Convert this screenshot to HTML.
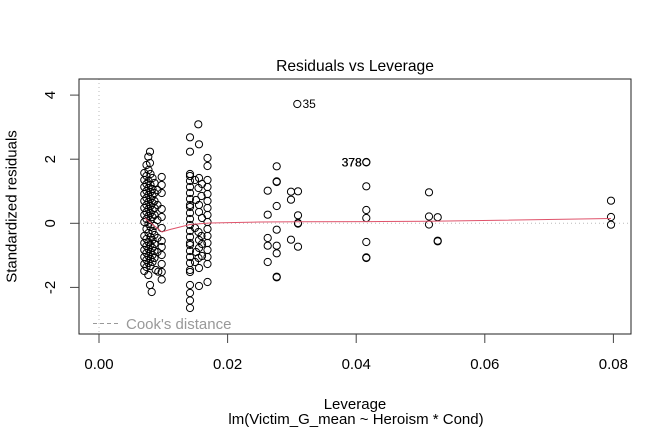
<!DOCTYPE html>
<html><head><meta charset="utf-8"><style>
html,body{margin:0;padding:0;background:#fff;}
svg{display:block;}
text{font-family:"Liberation Sans",Arial,sans-serif;}
</style></head><body>
<svg width="672" height="432" viewBox="0 0 672 432" xmlns="http://www.w3.org/2000/svg">
<rect width="672" height="432" fill="#fff"/>
<!-- reference lines -->
<line x1="79" y1="223.3" x2="631" y2="223.3" stroke="#bbb" stroke-width="1" stroke-dasharray="1,3"/>
<line x1="99" y1="79" x2="99" y2="334" stroke="#bbb" stroke-width="1" stroke-dasharray="1,3"/>
<!-- title -->
<text x="355" y="71" font-size="15.6" text-anchor="middle" fill="#000">Residuals vs Leverage</text>
<!-- frame -->
<rect x="79" y="79" width="552" height="255" fill="none" stroke="#222" stroke-width="1"/>
<!-- axes ticks -->
<g stroke="#444" stroke-width="1">
<line x1="70" y1="95.1" x2="79" y2="95.1"/>
<line x1="70" y1="159.2" x2="79" y2="159.2"/>
<line x1="70" y1="223.3" x2="79" y2="223.3"/>
<line x1="70" y1="287.4" x2="79" y2="287.4"/>
<line x1="99" y1="334" x2="99" y2="343"/>
<line x1="227.6" y1="334" x2="227.6" y2="343"/>
<line x1="356.2" y1="334" x2="356.2" y2="343"/>
<line x1="484.8" y1="334" x2="484.8" y2="343"/>
<line x1="613.4" y1="334" x2="613.4" y2="343"/>
</g>
<g font-size="15" fill="#000" text-anchor="middle">
<text transform="translate(55,95.1) rotate(-90)">4</text>
<text transform="translate(55,159.2) rotate(-90)">2</text>
<text transform="translate(55,223.3) rotate(-90)">0</text>
<text transform="translate(55,287.4) rotate(-90)">-2</text>
<text x="99" y="369">0.00</text>
<text x="227.6" y="369">0.02</text>
<text x="356.2" y="369">0.04</text>
<text x="484.8" y="369">0.06</text>
<text x="613.4" y="369">0.08</text>
<text transform="translate(16.5,206.5) rotate(-90)">Standardized residuals</text>
<text x="355" y="409">Leverage</text>
<text x="356" y="424">lm(Victim_G_mean ~ Heroism * Cond)</text>
</g>
<!-- legend -->
<line x1="93" y1="323.5" x2="121" y2="323.5" stroke="#999" stroke-width="1" stroke-dasharray="4,3"/>
<text x="126" y="329" font-size="15" fill="#999">Cook's distance</text>
<!-- points -->
<g fill="none" stroke="#000" stroke-width="1">
<!-- cluster 1 : dense band -->
<circle cx="144.3" cy="173" r="3.6"/><circle cx="144.3" cy="180" r="3.6"/><circle cx="144.3" cy="187" r="3.6"/><circle cx="144.3" cy="194" r="3.6"/><circle cx="144.3" cy="201" r="3.6"/><circle cx="144.3" cy="208" r="3.6"/><circle cx="144.3" cy="215" r="3.6"/><circle cx="144.3" cy="222" r="3.6"/><circle cx="144.3" cy="236" r="3.6"/><circle cx="144.3" cy="243" r="3.6"/><circle cx="144.3" cy="250" r="3.6"/><circle cx="144.3" cy="257" r="3.6"/><circle cx="144.3" cy="264" r="3.6"/><circle cx="144.3" cy="271" r="3.6"/>
<circle cx="146.5" cy="165" r="3.6"/><circle cx="146.5" cy="176" r="3.6"/><circle cx="146.5" cy="184" r="3.6"/><circle cx="146.5" cy="191" r="3.6"/><circle cx="146.5" cy="198" r="3.6"/><circle cx="146.5" cy="205" r="3.6"/><circle cx="146.5" cy="212" r="3.6"/><circle cx="146.5" cy="219" r="3.6"/><circle cx="146.5" cy="229" r="3.6"/><circle cx="146.5" cy="239" r="3.6"/><circle cx="146.5" cy="246" r="3.6"/><circle cx="146.5" cy="253" r="3.6"/><circle cx="146.5" cy="260" r="3.6"/><circle cx="146.5" cy="267" r="3.6"/>
<circle cx="148.3" cy="156.7" r="3.6"/><circle cx="148.5" cy="170" r="3.6"/><circle cx="148.5" cy="181" r="3.6"/><circle cx="148.5" cy="188" r="3.6"/><circle cx="148.5" cy="195" r="3.6"/><circle cx="148.5" cy="202" r="3.6"/><circle cx="148.5" cy="209" r="3.6"/><circle cx="148.5" cy="216" r="3.6"/><circle cx="148.5" cy="224" r="3.6"/><circle cx="148.5" cy="233" r="3.6"/><circle cx="148.5" cy="242" r="3.6"/><circle cx="148.5" cy="249" r="3.6"/><circle cx="148.5" cy="256" r="3.6"/><circle cx="148.5" cy="263" r="3.6"/><circle cx="148.3" cy="275" r="3.6"/>
<circle cx="150" cy="151.7" r="3.6"/><circle cx="150" cy="163" r="3.6"/><circle cx="150.5" cy="174" r="3.6"/><circle cx="150.5" cy="185" r="3.6"/><circle cx="150.5" cy="192" r="3.6"/><circle cx="150.5" cy="199" r="3.6"/><circle cx="150.5" cy="206" r="3.6"/><circle cx="150.5" cy="213" r="3.6"/><circle cx="150.5" cy="220" r="3.6"/><circle cx="150.5" cy="227" r="3.6"/><circle cx="150.5" cy="237" r="3.6"/><circle cx="150.5" cy="245" r="3.6"/><circle cx="150.5" cy="252" r="3.6"/><circle cx="150.5" cy="259" r="3.6"/><circle cx="150.5" cy="266" r="3.6"/><circle cx="150" cy="285" r="3.6"/><circle cx="151.7" cy="292" r="3.6"/>
<circle cx="152.5" cy="178" r="3.6"/><circle cx="152.5" cy="189" r="3.6"/><circle cx="152.5" cy="196" r="3.6"/><circle cx="152.5" cy="203" r="3.6"/><circle cx="152.5" cy="210" r="3.6"/><circle cx="152.5" cy="217" r="3.6"/><circle cx="152.5" cy="231" r="3.6"/><circle cx="152.5" cy="240" r="3.6"/><circle cx="152.5" cy="248" r="3.6"/><circle cx="152.5" cy="255" r="3.6"/><circle cx="152.5" cy="262" r="3.6"/>
<circle cx="154.5" cy="183" r="3.6"/><circle cx="154.5" cy="193" r="3.6"/><circle cx="154.5" cy="201" r="3.6"/><circle cx="154.5" cy="208" r="3.6"/><circle cx="154.5" cy="215" r="3.6"/><circle cx="154.5" cy="226" r="3.6"/><circle cx="154.5" cy="235" r="3.6"/><circle cx="154.5" cy="244" r="3.6"/><circle cx="154.5" cy="251" r="3.6"/><circle cx="154.5" cy="258" r="3.6"/><circle cx="155.7" cy="270" r="3.6"/>
<circle cx="157.5" cy="190" r="3.6"/><circle cx="157.5" cy="205" r="3.6"/><circle cx="157.5" cy="220" r="3.6"/><circle cx="157.5" cy="238" r="3.6"/><circle cx="157.5" cy="252" r="3.6"/><circle cx="158.3" cy="271.7" r="3.6"/>
<circle cx="161.7" cy="177" r="3.6"/><circle cx="161.7" cy="185" r="3.6"/><circle cx="161.7" cy="193" r="3.6"/><circle cx="161.7" cy="209" r="3.6"/><circle cx="161.7" cy="217" r="3.6"/><circle cx="161.7" cy="228" r="3.6"/><circle cx="161.7" cy="241" r="3.6"/><circle cx="161.7" cy="247" r="3.6"/><circle cx="161.7" cy="255" r="3.6"/><circle cx="161.7" cy="264" r="3.6"/><circle cx="161.7" cy="272" r="3.6"/><circle cx="161.7" cy="279.5" r="3.6"/>
<!-- cluster 2 -->
<circle cx="190" cy="137.3" r="3.6"/><circle cx="190" cy="151.7" r="3.6"/><circle cx="190" cy="174" r="3.6"/><circle cx="190" cy="176" r="3.6"/><circle cx="190" cy="181" r="3.6"/><circle cx="190" cy="187" r="3.6"/><circle cx="190" cy="193" r="3.6"/><circle cx="190" cy="199" r="3.6"/><circle cx="190" cy="205" r="3.6"/><circle cx="190" cy="207" r="3.6"/><circle cx="190" cy="213" r="3.6"/><circle cx="190" cy="219" r="3.6"/><circle cx="190" cy="225" r="3.6"/><circle cx="190" cy="231" r="3.6"/><circle cx="190" cy="237" r="3.6"/><circle cx="190" cy="243" r="3.6"/><circle cx="190" cy="245" r="3.6"/><circle cx="190" cy="251" r="3.6"/><circle cx="190" cy="257" r="3.6"/><circle cx="190" cy="263" r="3.6"/><circle cx="190" cy="270" r="3.6"/><circle cx="190" cy="272" r="3.6"/><circle cx="190" cy="285" r="3.6"/><circle cx="190" cy="293" r="3.6"/><circle cx="190" cy="300.5" r="3.6"/><circle cx="190" cy="308" r="3.6"/>
<circle cx="195" cy="180" r="3.6"/><circle cx="196" cy="200" r="3.6"/><circle cx="195" cy="228" r="3.6"/><circle cx="196" cy="252" r="3.6"/><circle cx="195" cy="262" r="3.6"/>
<circle cx="198.3" cy="124.3" r="3.6"/><circle cx="199" cy="144.3" r="3.6"/><circle cx="199" cy="178" r="3.6"/><circle cx="198.5" cy="188" r="3.6"/><circle cx="199" cy="205" r="3.6"/><circle cx="199" cy="212" r="3.6"/><circle cx="198.5" cy="232" r="3.6"/><circle cx="199" cy="240" r="3.6"/><circle cx="199" cy="248" r="3.6"/><circle cx="198.5" cy="258" r="3.6"/><circle cx="199" cy="268" r="3.6"/><circle cx="199" cy="286" r="3.6"/>
<circle cx="202" cy="184" r="3.6"/><circle cx="201.5" cy="196" r="3.6"/><circle cx="202" cy="218" r="3.6"/><circle cx="201.5" cy="236" r="3.6"/><circle cx="202" cy="244" r="3.6"/><circle cx="202" cy="256" r="3.6"/>
<circle cx="207.5" cy="158" r="3.6"/><circle cx="207.5" cy="166" r="3.6"/><circle cx="207.5" cy="180" r="3.6"/><circle cx="207.5" cy="187" r="3.6"/><circle cx="207.5" cy="194" r="3.6"/><circle cx="207.5" cy="201" r="3.6"/><circle cx="207.5" cy="208" r="3.6"/><circle cx="207.5" cy="215" r="3.6"/><circle cx="207.5" cy="222" r="3.6"/><circle cx="207.5" cy="229" r="3.6"/><circle cx="207.5" cy="236" r="3.6"/><circle cx="207.5" cy="243" r="3.6"/><circle cx="207.5" cy="250" r="3.6"/><circle cx="207.5" cy="257" r="3.6"/><circle cx="207.5" cy="264" r="3.6"/><circle cx="207.5" cy="282" r="3.6"/>
<!-- sparse points -->
<circle cx="297.3" cy="104" r="3.6"/>
<circle cx="366.3" cy="162" r="3.6"/><circle cx="366.3" cy="162.4" r="3.6"/>
<circle cx="276.7" cy="166.3" r="3.6"/>
<circle cx="276.7" cy="181.4" r="3.6"/><circle cx="276.7" cy="182" r="3.6"/>
<circle cx="267.7" cy="190.7" r="3.6"/>
<circle cx="291" cy="191.7" r="3.6"/><circle cx="298" cy="191.3" r="3.6"/><circle cx="291" cy="199.7" r="3.6"/>
<circle cx="276.7" cy="206" r="3.6"/>
<circle cx="267.7" cy="214.7" r="3.6"/>
<circle cx="298" cy="215.3" r="3.6"/>
<circle cx="298" cy="223" r="3.6"/><circle cx="298" cy="223.6" r="3.6"/>
<circle cx="366.3" cy="186.3" r="3.6"/>
<circle cx="366.3" cy="210" r="3.6"/><circle cx="366.3" cy="218" r="3.6"/>
<circle cx="276.7" cy="229.7" r="3.6"/>
<circle cx="267.7" cy="238" r="3.6"/><circle cx="267.7" cy="245.7" r="3.6"/>
<circle cx="276.7" cy="245.7" r="3.6"/><circle cx="276.7" cy="253.3" r="3.6"/>
<circle cx="291" cy="239.7" r="3.6"/><circle cx="298" cy="246.7" r="3.6"/>
<circle cx="267.7" cy="262" r="3.6"/>
<circle cx="276.7" cy="276.7" r="3.6"/><circle cx="276.7" cy="277.3" r="3.6"/>
<circle cx="366.3" cy="242" r="3.6"/>
<circle cx="366.3" cy="257.4" r="3.6"/><circle cx="366.3" cy="258" r="3.6"/>
<circle cx="429" cy="192.3" r="3.6"/>
<circle cx="429" cy="216.5" r="3.6"/><circle cx="437.7" cy="217.2" r="3.6"/><circle cx="429" cy="224.5" r="3.6"/>
<circle cx="437.7" cy="240.7" r="3.6"/><circle cx="437.7" cy="241.3" r="3.6"/>
<circle cx="611" cy="200.7" r="3.6"/><circle cx="611" cy="217" r="3.6"/><circle cx="611" cy="224.7" r="3.6"/>
</g>
<!-- smoother -->
<polyline points="145,218.3 162,232 170,229.5 190,224.5 210,223 260,222 300,221.8 370,221.6 430,221.3 611,218.5" fill="none" stroke="#DF536B" stroke-width="1"/>
<!-- point labels -->
<text x="302.5" y="108" font-size="12" fill="#000">35</text>
<text x="361.5" y="166.3" font-size="12" fill="#000" text-anchor="end">378</text>
<text x="361.9" y="166.3" font-size="12" fill="#000" text-anchor="end">378</text>
</svg>
</body></html>
